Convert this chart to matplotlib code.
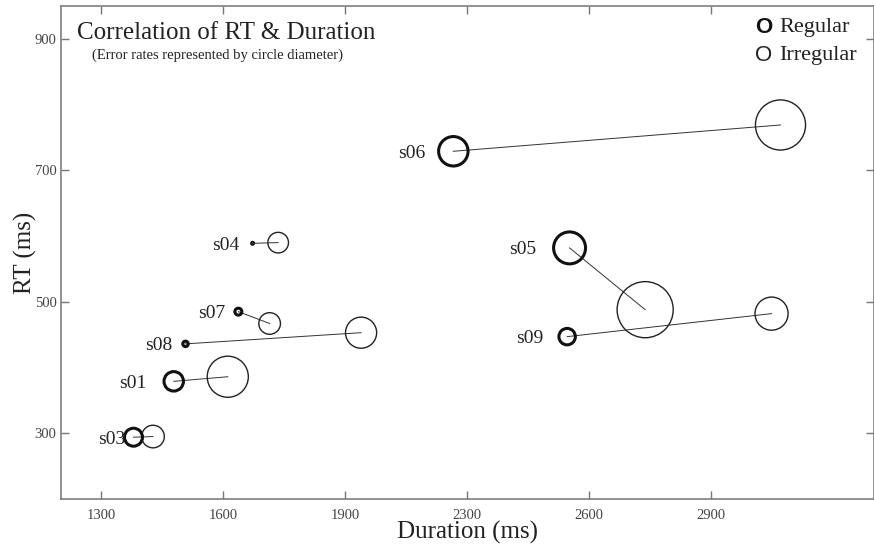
import matplotlib
matplotlib.use('Agg')
import matplotlib.pyplot as plt

plt.rcParams['font.family'] = ['Liberation Serif', 'DejaVu Serif']

# --- Data ---
subjects = ['s01', 's03', 's04', 's05', 's06', 's07', 's08', 's09']
dur_reg = [1478, 1379, 1672, 2452, 2166, 1637, 1507, 2446]
rt_reg = [379, 294, 589, 582, 729, 485, 436, 447]
err_reg = [4.5, 4.2, 1.0, 7.0, 6.5, 2.0, 1.7, 3.9]
dur_irr = [1611, 1427, 1735, 2638, 2971, 1714, 1939, 2949]
rt_irr = [386, 295, 590, 488, 769, 467, 453, 482]
err_irr = [8.5, 4.8, 4.4, 11.5, 10.3, 4.6, 6.5, 6.9]

x_ticks = [1300, 1600, 1900, 2200, 2500, 2800]
x_tick_labels = ['1300', '1600', '1900', '2300', '2600', '2900']
y_ticks = [300, 500, 700, 900]

# label offsets to the left of each regular circle (px)
label_offset = [27.6, 8, 13, 33, 28, 13, 12.7, 23.7]

DPI = 100
PX = 72 / DPI          # points per pixel
LW_REG = 2.2           # pt
LW_IRR = 1.0
DIAM_PER_ERR = 5       # px of circle diameter per error-rate unit


def sizes(errs, lw):
    out = []
    for e in errs:
        d = max(e * DIAM_PER_ERR - lw / PX, 0.5) * PX
        out.append(d ** 2)
    return out


fig = plt.figure(figsize=(8.74, 5.46), dpi=DPI)
ax = fig.add_axes([0.0695, 0.0861, 0.930, 0.9029])

# connecting lines
for xr, yr, xi, yi in zip(dur_reg, rt_reg, dur_irr, rt_irr):
    ax.plot([xr, xi], [yr, yi], color='#333333', lw=0.7, zorder=1)

ax.scatter(dur_irr, rt_irr, s=sizes(err_irr, LW_IRR), facecolors='none',
           edgecolors='#222222', linewidths=LW_IRR, zorder=2)
ax.scatter(dur_reg, rt_reg, s=sizes(err_reg, LW_REG), facecolors='none',
           edgecolors='#111111', linewidths=LW_REG, zorder=3)

for name, x, y, off in zip(subjects, dur_reg, rt_reg, label_offset):
    ax.annotate(name, (x, y), xytext=(-off * PX, 0), textcoords='offset points',
                ha='right', va='center_baseline', fontsize=14, color='#222222')

ax.set_xlim(1200, 3200)
ax.set_ylim(200, 950)
ax.set_xticks(x_ticks)
ax.set_xticklabels(x_tick_labels)
ax.set_yticks(y_ticks)
ax.tick_params(direction='in', top=True, right=True, length=6, width=1,
               color='#777777', labelsize=10.5, labelcolor='#444444')
ax.tick_params(axis='x', pad=7)
ax.tick_params(axis='y', pad=3)
for sp in ax.spines.values():
    sp.set_color('#7f7f7f')
    sp.set_linewidth(1.2)

ax.set_xlabel('Duration (ms)', fontsize=18, labelpad=-0.5, color='#222222')
ax.set_ylabel('RT (ms)', fontsize=18, labelpad=-2, color='#222222')

# title block inside axes
ax.text(0.020, 0.933, 'Correlation of RT & Duration', transform=ax.transAxes,
        fontsize=18, ha='left', va='baseline', color='#222222')
ax.text(0.038, 0.9006, '(Error rates represented by circle diameter)',
        transform=ax.transAxes, fontsize=10.5, ha='left', va='center',
        color='#222222')

# legend drawn as text glyphs
ax.text(0.8647, 0.957, 'O', transform=ax.transAxes, family='Liberation Sans',
        fontweight='bold', fontsize=16, ha='center', va='center', color='#111111')
ax.text(0.8844, 0.957, 'Regular', transform=ax.transAxes, fontsize=16,
        ha='left', va='center', color='#222222')
ax.text(0.8647, 0.8986, 'O', transform=ax.transAxes, family='Liberation Sans',
        fontsize=16, ha='center', va='center', color='#222222')
ax.text(0.8844, 0.8986, 'Irregular', transform=ax.transAxes, fontsize=16,
        ha='left', va='center', color='#222222')

plt.savefig('out.png', dpi=DPI)
